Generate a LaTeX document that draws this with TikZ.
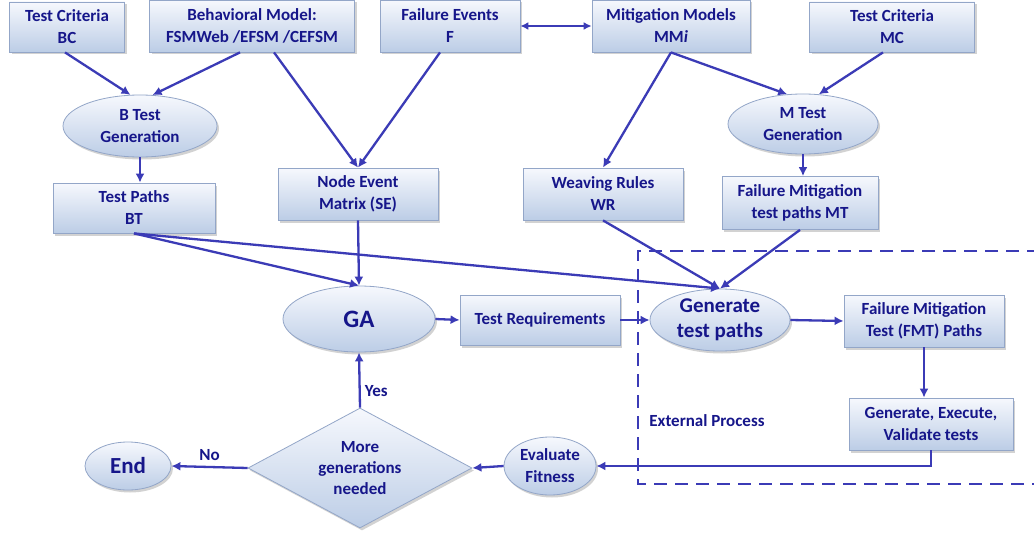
\documentclass[tikz,border=0pt]{standalone}
\usepackage{fontspec}
\setmainfont{Carlito}
\usetikzlibrary{shapes.geometric,shadows,arrows.meta,calc}

\definecolor{ink}{HTML}{16168A}
\definecolor{wire}{HTML}{3B3BB6}
\definecolor{boxtop}{HTML}{F6F8FD}
\definecolor{boxbot}{HTML}{BCCDE6}
\definecolor{rim}{HTML}{93A6C8}

\tikzset{
  x=1pt, y=-1pt,
  base/.style={draw=rim, line width=0.8pt, top color=boxtop, bottom color=boxbot,
    text=ink, align=center, inner sep=0pt,
    font=\bfseries\fontsize{17}{22}\selectfont,
    drop shadow={opacity=0.35, shadow xshift=2pt, shadow yshift=-2.5pt}},
  box/.style={base, rectangle},
  oval/.style={base, ellipse},
  choice/.style={base, diamond, aspect=1.87},
  arr/.style={draw=wire, line width=2.3pt, -{Latex[length=9pt,width=9pt]}},
  both/.style={draw=wire, line width=2.3pt, {Latex[length=8pt,width=8pt]}-{Latex[length=8pt,width=8pt]}},
  lbl/.style={text=ink, font=\bfseries\fontsize{17}{20}\selectfont, inner sep=0pt},
}

\begin{document}
\begin{tikzpicture}
\path[use as bounding box, fill=white] (0,0) rectangle (1034,535);

% external process frame (runs off the right edge)
\draw[draw=wire, line width=2.5pt, dash pattern=on 13pt off 8pt]
  (1040,251) -| (638,484) -- (1040,484);
\node[lbl] (ext) at (707,421) {External Process};

% top row of inputs
\node[box, minimum width=115pt, minimum height=50pt] (bc) at (67,27) {Test Criteria\\BC};
\node[box, minimum width=205pt, minimum height=52pt] (bm) at (252,26) {Behavioral Model:\\FSMWeb /EFSM /CEFSM};
\node[box, minimum width=140pt, minimum height=52pt] (fe) at (450,26) {Failure Events\\F};
\node[box, minimum width=158pt, minimum height=52pt] (mm) at (671,26) {Mitigation Models\\MM\textit{i}};
\node[box, minimum width=165pt, minimum height=50pt] (mc) at (892,27) {Test Criteria\\MC};

% test generation
\node[oval, minimum width=154pt, minimum height=62pt] (btest) at (140,126) {B Test\\Generation};
\node[oval, minimum width=150pt, minimum height=60pt] (mtest) at (803,124) {M Test\\Generation};

\node[box, minimum width=162pt, minimum height=50pt] (bt) at (134,208) {Test Paths\\BT};
\node[box, minimum width=160pt, minimum height=52pt] (nem) at (358,194) {Node Event\\Matrix (SE)};
\node[box, minimum width=160pt, minimum height=52pt] (wr) at (603,194) {Weaving Rules\\WR};
\node[box, minimum width=156pt, minimum height=53pt] (mt) at (800,203) {Failure Mitigation\\test paths MT};

% GA loop
\node[oval, minimum width=152pt, minimum height=66pt, font=\bfseries\fontsize{25}{28}\selectfont] (ga) at (359,319) {GA};
\node[box, minimum width=160pt, minimum height=50pt] (tr) at (540,320) {Test Requirements};
\node[oval, minimum width=140pt, minimum height=62pt, font=\bfseries\fontsize{21}{25}\selectfont] (gtp) at (720,320) {Generate\\test paths};
\node[box, minimum width=160pt, minimum height=52pt] (fmt) at (924,321) {Failure Mitigation\\Test (FMT) Paths};
\node[box, minimum width=164pt, minimum height=52pt] (gev) at (931,424) {Generate, Execute,\\Validate tests};
\node[oval, minimum width=92pt, minimum height=58pt] (ef) at (550,466) {Evaluate\\Fitness};
\node[choice, minimum width=224pt, minimum height=120pt, font=\bfseries\fontsize{17}{21}\selectfont] (dec) at (360,468) {More\\generations\\needed};
\node[oval, minimum width=86pt, minimum height=48pt, font=\bfseries\fontsize{23}{27}\selectfont] (end) at (128,466) {End};

% connectors
\draw[both] (fe.east) -- (mm.west);
\draw[arr] ($(bc.south)+(-2,0)$) -- (btest.107);
\draw[arr] ($(bm.south)+(-12,0)$) -- (btest.68);
\draw[arr] ($(bm.south)+(22,0)$) -- (nem.north);
\draw[arr] ($(fe.south)+(-10,0)$) -- (nem.north);
\draw[arr] (mm.south) -- (wr.north);
\draw[arr] (mm.south) -- (mtest.118);
\draw[arr] ($(mc.south)+(-9,0)$) -- (mtest.62);
\draw[arr] (btest.south) -- (btest.south |- bt.north);
\draw[arr] (mtest.south) -- (mtest.south |- mt.north);
\draw[arr] (bt.south) -- (ga.north);
\draw[arr] (bt.south) -- (gtp.north);
\draw[arr] (nem.south) -- (ga.north);
\draw[arr] (wr.south) -- (gtp.north);
\draw[arr] (mt.south) -- (gtp.north);
\draw[arr] (ga.east) -- (tr.west);
\draw[arr] (tr.east) -- (gtp.west);
\draw[arr] (gtp.east) -- (fmt.west);
\draw[arr] (fmt.south) -- (fmt.south |- gev.north);
\draw[arr] (gev.south) |- (ef.east);
\draw[arr] (ef.west) -- (dec.east);
\draw[arr] (dec.west) -- node[lbl, above=5pt] {No} (end.east);
\draw[arr] (dec.north) -- node[lbl, pos=0.3, right=4pt] {Yes} (ga.south);
\end{tikzpicture}
\end{document}
